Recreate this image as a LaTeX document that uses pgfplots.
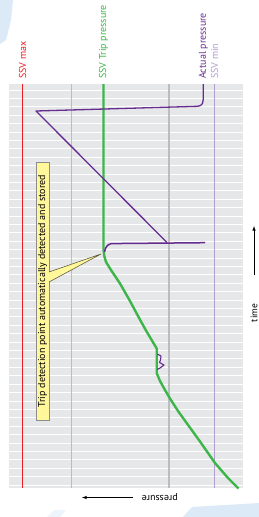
\documentclass[border=0pt]{standalone}
\usepackage{fontspec}
\setmainfont{PT Sans}
\usepackage{pgfplots}
\pgfplotsset{compat=1.18}
\definecolor{bg}{HTML}{E6E7E8}
\definecolor{ssvred}{HTML}{ED1C24}
\definecolor{ssvgreen}{HTML}{3DB54A}
\definecolor{actpurple}{HTML}{662D91}
\definecolor{ssvmin}{HTML}{B39DD0}
\definecolor{gridgray}{HTML}{BCBDC0}
\definecolor{callout}{HTML}{FFF79A}
\definecolor{swoosh}{HTML}{DCEAF7}
\definecolor{swooshlight}{HTML}{EEF4FB}
\begin{document}
\begin{tikzpicture}
\begin{axis}[scale only axis, width=259pt, height=517pt,
  xmin=0, xmax=259, ymin=0, ymax=517, y dir=reverse,
  hide axis, clip=false]
\fill[white] (axis cs:0,0) rectangle (axis cs:259,517);
% faint background decorations
\fill[swoosh] (axis cs:0,0) -- (axis cs:13,0) -- (axis cs:11,20) -- (axis cs:6,40) -- (axis cs:0,44) -- cycle;
\fill[swoosh] (axis cs:183,517) -- (axis cs:192,507) -- (axis cs:259,503) -- (axis cs:259,517) -- cycle;
\fill[swooshlight] (axis cs:47,517) -- (axis cs:54,510) -- (axis cs:66,510) -- (axis cs:60,517) -- cycle;
\fill[bg] (axis cs:9,84) rectangle (axis cs:243.3,488);
\pgfplotsinvokeforeach{0,...,47}{
  \draw[white, line width=0.9pt] (axis cs:9,{90+8.404*#1}) -- (axis cs:243.3,{90+8.404*#1});
}
% reference lines
\addplot[ssvred, line width=1.4pt] coordinates {(22.7,84) (22.7,488)};
\addplot[gridgray, line width=1.4pt] coordinates {(71.7,84) (71.7,488)};
\addplot[gridgray, line width=1.4pt] coordinates {(169,84) (169,488)};
\addplot[ssvmin, line width=1.4pt] coordinates {(214.5,84) (214.5,488)};
% SSV trip pressure (green)
\addplot[ssvgreen, line width=2.4pt, line join=round] coordinates {
 (103.5,84) (103.5,250) (104.3,256) (106,262) (110,268.5) (120,283.5) (130,301)
 (138,316) (146,330.5) (156.7,348.5) (156.7,373) (160,381) (165,390) (170,398.5)
 (178,411) (187,423.5) (200,441.5) (215,463) (228,478) (238.5,488.5)};
% actual pressure (purple)
\addplot[actpurple, line width=1.3pt, line join=round] coordinates {
 (203.3,84) (203.3,99) (202.5,103.5) (200.5,105.5) (197.5,106.3) (36,111) (167,242.5)};
\addplot[actpurple, line width=1.5pt, line join=round] coordinates {
 (104.5,252) (105.5,248.3) (107.5,245.3) (111,243.6) (205,242.7)};
\addplot[actpurple, line width=1.1pt, line join=round] coordinates {
 (157.3,354) (161,356) (160.5,360) (159.5,362.5) (164,365) (160,368) (157.3,369.5)};
% callout
\filldraw[fill=callout, draw=black!45, line width=0.6pt] (axis cs:36,162) rectangle (axis cs:49,420);
\fill[callout] (axis cs:48.6,272) -- (axis cs:101,254) -- (axis cs:48.6,282) -- cycle;
\draw[black!55!olive, line width=0.5pt] (axis cs:49,282) -- (axis cs:101,254) -- (axis cs:49,272);
\node[rotate=90, inner sep=0, font=\fontsize{10}{11}\selectfont] at (axis cs:42.7,291) {Trip detection point automatically detected and stored};
% labels
\node[rotate=90, anchor=west, inner sep=0, text=ssvred, font=\fontsize{10}{11}\selectfont] at (axis cs:22.7,79) {SSV max};
\node[rotate=90, anchor=west, inner sep=0, text=ssvgreen, font=\fontsize{10}{11}\selectfont] at (axis cs:103.5,79) {SSV Trip pressure};
\node[rotate=90, anchor=west, inner sep=0, text=actpurple, font=\fontsize{10}{11}\selectfont] at (axis cs:203.3,79) {Actual pressure};
\node[rotate=90, anchor=west, inner sep=0, text=ssvmin, font=\fontsize{10}{11}\selectfont] at (axis cs:214.5,79) {SSV min};
% axis labels
\node[rotate=90, anchor=east, inner sep=0, font=\fontsize{9.5}{11}\selectfont] at (axis cs:254,303.5) {time};
\draw[-latex, line width=0.6pt] (axis cs:254,275) -- (axis cs:254,226);
\node[rotate=180, anchor=east, inner sep=0, font=\fontsize{10}{11}\selectfont] at (axis cs:141.5,497) {pressure};
\draw[-latex, line width=0.6pt] (axis cs:133,497.5) -- (axis cs:82,497.5);
\end{axis}
\end{tikzpicture}
\end{document}
